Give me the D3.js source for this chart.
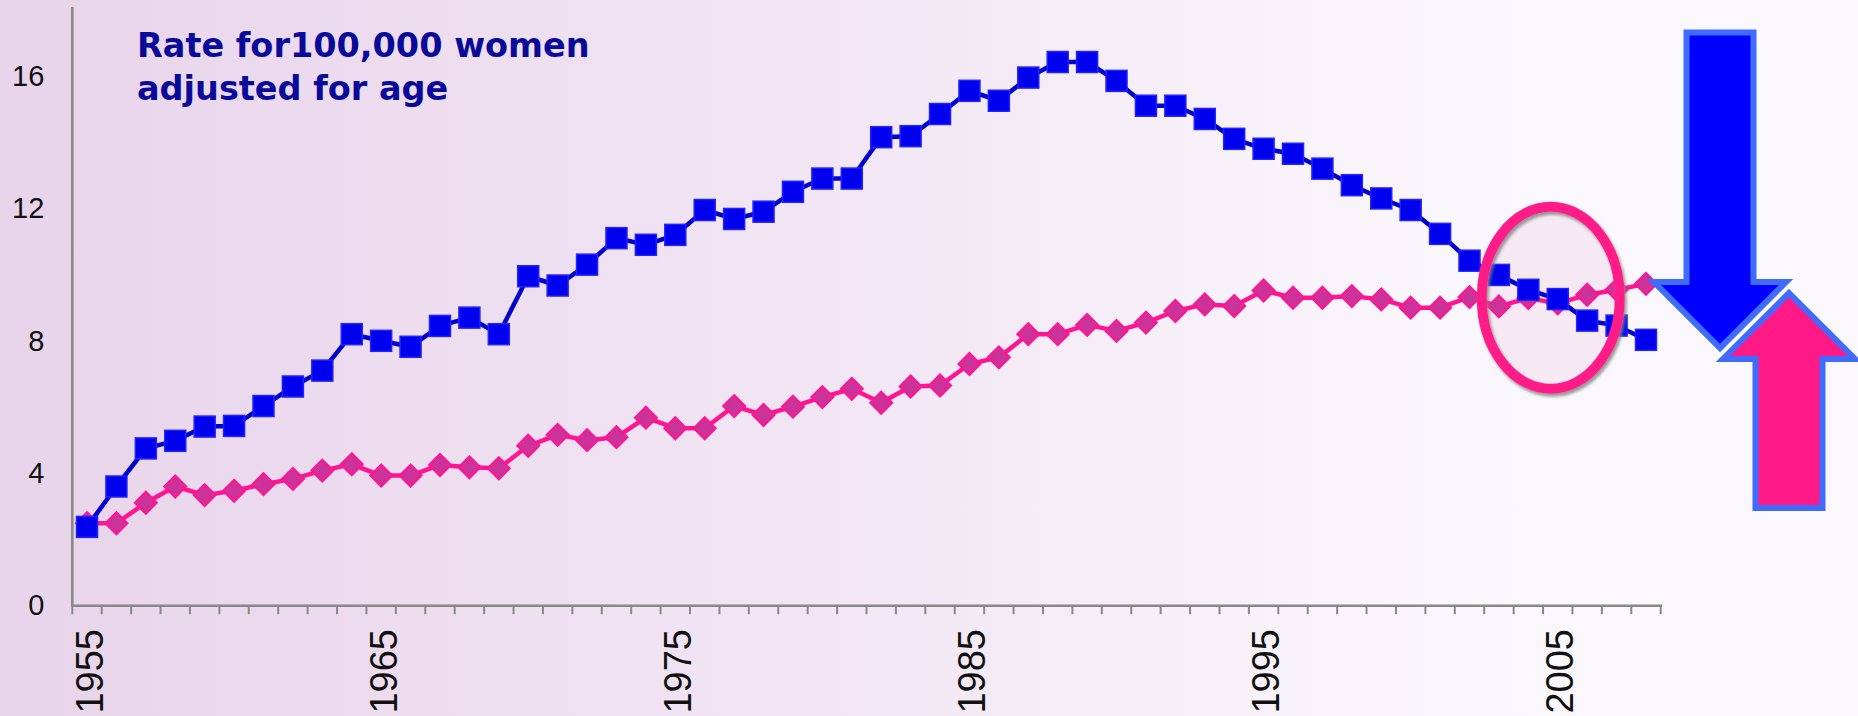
<!DOCTYPE html>
<html>
<head>
<meta charset="utf-8">
<script src="https://cdn.jsdelivr.net/npm/d3@7"></script>
<style>
  html, body { margin: 0; padding: 0; overflow: hidden; }
  svg { display: block; }
</style>
</head>
<body>
<script>
// data
var years = d3.range(1955, 2009).map(String);
var labelYears = ["1955", "1965", "1975", "1985", "1995", "2005"];
var yTicks = [0, 4, 8, 12, 16];

var blueRate = [2.38, 3.6, 4.75, 4.98, 5.41, 5.43, 6.03, 6.62, 7.1, 8.2,
  8.0, 7.82, 8.45, 8.7, 8.2, 9.95, 9.67, 10.3, 11.1, 10.9,
  11.2, 11.95, 11.68, 11.9, 12.5, 12.9, 12.9, 14.15, 14.18, 14.85,
  15.55, 15.25, 15.95, 16.42, 16.42, 15.85, 15.1, 15.1, 14.7, 14.1,
  13.8, 13.65, 13.2, 12.7, 12.3, 11.95, 11.23, 10.42, 9.99, 9.54,
  9.26, 8.61, 8.46, 8.03];

var pinkRate = [2.49, 2.49, 3.11, 3.6, 3.34, 3.47, 3.67, 3.83, 4.08, 4.27,
  3.93, 3.93, 4.25, 4.18, 4.15, 4.83, 5.16, 5.0, 5.09, 5.68,
  5.36, 5.36, 6.03, 5.76, 6.01, 6.3, 6.55, 6.13, 6.62, 6.65,
  7.3, 7.5, 8.2, 8.2, 8.48, 8.3, 8.55, 8.9, 9.1, 9.05,
  9.52, 9.3, 9.3, 9.35, 9.25, 9.0, 9.0, 9.32, 9.04, 9.29,
  9.13, 9.39, 9.54, 9.72];

var titleLines = ["Rate for100,000 women", "adjusted for age"];

var W = 1858, H = 716;

var svg = d3.select("body").append("svg")
  .attr("width", W)
  .attr("height", H);

var defs = svg.append("defs");
var grad = defs.append("linearGradient")
  .attr("id", "bg")
  .attr("x1", 0).attr("y1", 0).attr("x2", 1).attr("y2", 0);
grad.append("stop").attr("offset", 0).attr("stop-color", "#e8d4ea");
grad.append("stop").attr("offset", 0.45).attr("stop-color", "#f2e6f4");
grad.append("stop").attr("offset", 0.78).attr("stop-color", "#faf7fc");
grad.append("stop").attr("offset", 1).attr("stop-color", "#fbf9fd");

var shadow = defs.append("filter")
  .attr("id", "shadow")
  .attr("x", -0.2).attr("y", -0.2).attr("width", 1.4).attr("height", 1.4);
shadow.append("feDropShadow")
  .attr("dx", 2).attr("dy", 3)
  .attr("stdDeviation", 1.5)
  .attr("flood-color", "#808080")
  .attr("flood-opacity", 0.8);

svg.append("rect")
  .attr("width", W).attr("height", H)
  .attr("fill", "url(#bg)");

// scales
var x = d3.scaleBand()
  .domain(years)
  .range([72.3, 1660.7])
  .padding(0);

var y = d3.scaleLinear()
  .domain([0, 18])
  .range([605.7, 9.7]);

function cx(d) { return x(d) + x.bandwidth() / 2; }

// y axis
var yAxis = svg.append("g")
  .attr("transform", "translate(72.3,0)")
  .call(d3.axisLeft(y).tickValues(yTicks).tickSize(0).tickPadding(28));
yAxis.select(".domain").remove();
yAxis.selectAll("text")
  .attr("font-family", "Liberation Sans, Arial, sans-serif")
  .attr("font-size", 29)
  .attr("fill", "#111");

svg.append("line")
  .attr("x1", 72.3).attr("x2", 72.3)
  .attr("y1", 7).attr("y2", y(0))
  .attr("stroke", "#888").attr("stroke-width", 2.6);

// x axis
svg.append("line")
  .attr("x1", 71).attr("x2", 1662)
  .attr("y1", y(0)).attr("y2", y(0))
  .attr("stroke", "#888").attr("stroke-width", 2.6);

svg.selectAll(".xtick")
  .data(years.concat(["end"]))
  .enter()
  .append("line")
    .attr("class", "xtick")
    .attr("x1", function(d) { return d === "end" ? x.range()[1] : x(d); })
    .attr("x2", function(d) { return d === "end" ? x.range()[1] : x(d); })
    .attr("y1", y(0))
    .attr("y2", y(0) + 8.5)
    .attr("stroke", "#888")
    .attr("stroke-width", 2);

svg.selectAll(".xlabel")
  .data(labelYears)
  .enter()
  .append("text")
    .attr("class", "xlabel")
    .attr("transform", function(d) { return "translate(" + (cx(d) + 2) + ",629) rotate(-90)"; })
    .attr("text-anchor", "end")
    .attr("dy", "0.36em")
    .attr("font-family", "Liberation Sans, Arial, sans-serif")
    .attr("font-size", 38)
    .attr("fill", "#111")
    .text(function(d) { return d; });

// title
svg.selectAll(".title")
  .data(titleLines)
  .enter()
  .append("text")
    .attr("class", "title")
    .attr("x", 137)
    .attr("y", function(d, i) { return 57 + i * 43; })
    .attr("font-family", "DejaVu Sans, Verdana, sans-serif")
    .attr("font-weight", "bold")
    .attr("font-size", 33.5)
    .attr("fill", "#0a0a9a")
    .text(function(d) { return d; });

// highlight ellipse (fill under the lines)
var ex = cx("2005") - 7, ey = y(9.3);
svg.append("ellipse")
  .attr("cx", ex).attr("cy", ey)
  .attr("rx", 69).attr("ry", 91)
  .attr("fill", "#f4e4f2")
  .attr("fill-opacity", 0.75);

// pink series
var pinkLine = d3.line()
  .x(function(d, i) { return cx(years[i]); })
  .y(function(d) { return y(d); });

svg.append("path")
  .datum(pinkRate)
  .attr("d", pinkLine)
  .attr("fill", "none")
  .attr("stroke", "#ff1493")
  .attr("stroke-width", 4.5)
  .attr("stroke-linejoin", "round");

svg.selectAll(".diamond")
  .data(pinkRate)
  .enter()
  .append("path")
    .attr("class", "diamond")
    .attr("d", "M0,-11L11,0L0,11L-11,0Z")
    .attr("transform", function(d, i) { return "translate(" + cx(years[i]) + "," + y(d) + ")"; })
    .attr("fill", "#cc3399")
    .attr("stroke", "#ff1493")
    .attr("stroke-width", 2);

// blue series
var blueLine = d3.line()
  .x(function(d, i) { return cx(years[i]); })
  .y(function(d) { return y(d); });

svg.append("path")
  .datum(blueRate)
  .attr("d", blueLine)
  .attr("fill", "none")
  .attr("stroke", "#0000cc")
  .attr("stroke-width", 4.5)
  .attr("stroke-linejoin", "round");

svg.selectAll(".square")
  .data(blueRate)
  .enter()
  .append("rect")
    .attr("class", "square")
    .attr("x", function(d, i) { return cx(years[i]) - 10.5; })
    .attr("y", function(d) { return y(d) - 10.5; })
    .attr("width", 21)
    .attr("height", 21)
    .attr("fill", "#0000ee")
    .attr("stroke", "#2222ff")
    .attr("stroke-width", 1.5);

// ring on top
svg.append("ellipse")
  .attr("cx", ex).attr("cy", ey)
  .attr("rx", 69).attr("ry", 91)
  .attr("fill", "none")
  .attr("stroke", "#ff1a88")
  .attr("stroke-width", 10)
  .attr("filter", "url(#shadow)");

// arrows
var downArrow = "M1686.5,32.5 L1753.5,32.5 L1753.5,282 L1786,282 L1720,348 L1654,282 L1686.5,282 Z";
var upArrow = "M1789,293 L1855,359 L1822.5,359 L1822.5,508 L1755.5,508 L1755.5,359 L1723,359 Z";

svg.append("path")
  .attr("d", downArrow)
  .attr("fill", "#0000ff")
  .attr("stroke", "#3f6bff")
  .attr("stroke-width", 6)
  .attr("stroke-linejoin", "miter");

svg.append("path")
  .attr("d", upArrow)
  .attr("fill", "#ff1a88")
  .attr("stroke", "#3f6bff")
  .attr("stroke-width", 6)
  .attr("stroke-linejoin", "miter");
</script>
</body>
</html>
